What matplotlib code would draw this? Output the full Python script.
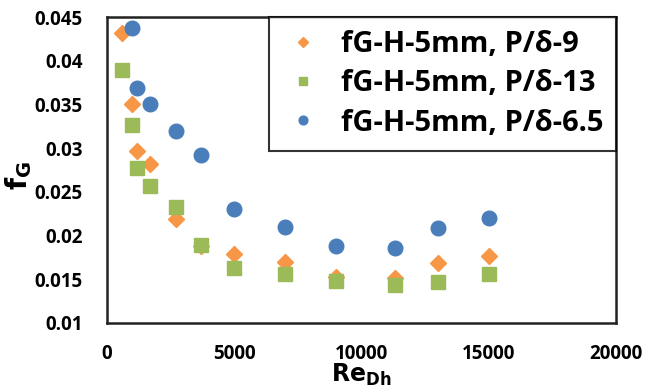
import matplotlib.pyplot as plt

# friction factor vs Reynolds number, three pitch ratios
re_9 = [600, 1000, 1200, 1700, 2700, 3700, 5000, 7000, 9000, 11300, 13000, 15000]
fg_9 = [0.0432, 0.0351, 0.0297, 0.0282, 0.0219, 0.0188, 0.0179, 0.0170, 0.0152, 0.0151, 0.0168, 0.0176]

re_13 = [600, 1000, 1200, 1700, 2700, 3700, 5000, 7000, 9000, 11300, 13000, 15000]
fg_13 = [0.0389, 0.0326, 0.0277, 0.0257, 0.0233, 0.0189, 0.0163, 0.0156, 0.0148, 0.0143, 0.0147, 0.0156]

re_65 = [1000, 1200, 1700, 2700, 3700, 5000, 7000, 9000, 11300, 13000, 15000]
fg_65 = [0.0437, 0.0369, 0.0351, 0.0320, 0.0292, 0.0230, 0.0210, 0.0188, 0.0186, 0.0209, 0.0220]

labels = ["fG-H-5mm, P/\u03b4-9", "fG-H-5mm, P/\u03b4-13", "fG-H-5mm, P/\u03b4-6.5"]

plt.rcParams['font.family'] = ['Open Sans', 'DejaVu Sans']
plt.rcParams['font.weight'] = 'bold'

fig = plt.figure(figsize=(6.67, 3.89), dpi=100)
ax = fig.add_axes([0.160, 0.170, 0.764, 0.786])

ax.plot(re_9, fg_9, linestyle='none', marker='D', markersize=8.5, color='#F79646', label=labels[0])
ax.plot(re_13, fg_13, linestyle='none', marker='s', markersize=10, color='#9BBB59', label=labels[1])
ax.plot(re_65, fg_65, linestyle='none', marker='o', markersize=10.5, color='#4A7EBB', label=labels[2])

ax.set_xlim(0, 20000)
ax.set_ylim(0.01, 0.045)
ax.set_xticks([0, 5000, 10000, 15000, 20000])
ax.set_yticks([0.01, 0.015, 0.02, 0.025, 0.03, 0.035, 0.04, 0.045])
ax.set_yticklabels(['0.01', '0.015', '0.02', '0.025', '0.03', '0.035', '0.04', '0.045'])
ax.tick_params(length=0, labelsize=13.5)
ax.tick_params(axis='y', pad=17)
ax.tick_params(axis='x', pad=15)
for lab in ax.get_xticklabels() + ax.get_yticklabels():
    lab.set_fontweight('bold')

for s in ax.spines.values():
    s.set_linewidth(1.8)
    s.set_color('#222222')

fig.text(0.541, 0.018, r'$\mathbf{Re}_{\mathbf{Dh}}$', fontsize=17, ha='center', va='baseline')
fig.text(0.028, 0.55, r'$\mathbf{f}_{\mathbf{G}}$', fontsize=20, ha='center', va='center', rotation=90)

leg = ax.legend(loc='upper right', fontsize=21, frameon=True, fancybox=False,
                borderaxespad=0, markerscale=0.6, handletextpad=0.6, handlelength=1.4,
                borderpad=0.45, labelspacing=0.35)
leg.get_frame().set_edgecolor('black')
leg.get_frame().set_linewidth(1.5)
for t in leg.get_texts():
    t.set_fontweight('bold')

fig.savefig('out.png', dpi=100)
